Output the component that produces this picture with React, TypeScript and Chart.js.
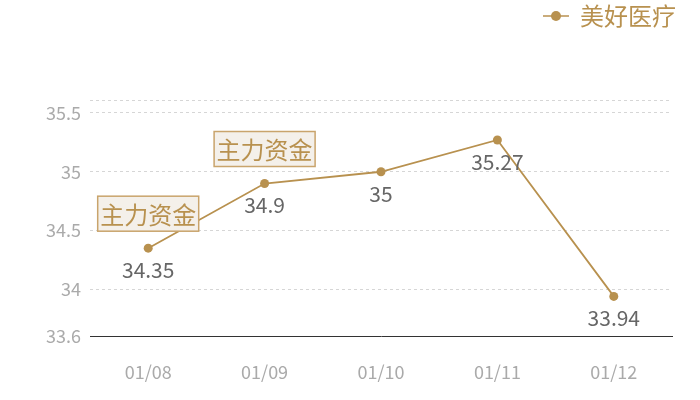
import React, { useEffect, useRef } from "react";
import { Chart, registerables } from "chart.js";

Chart.register(...registerables);

const categories = ["01/08", "01/09", "01/10", "01/11", "01/12"];
const prices = [34.35, 34.9, 35, 35.27, 33.94];
const yTicks = [33.6, 34, 34.5, 35, 35.5, 35.61];
const annotationIndexes = [0, 1];
const annotationText = "主力资金";
const seriesName = "美好医疗";

const GOLD = "#b8914f";
const FONT = "'Noto Sans CJK SC', 'Noto Sans', sans-serif";

function makeLegendIcon(): HTMLCanvasElement {
  const c = document.createElement("canvas");
  c.width = 26;
  c.height = 12;
  const ctx = c.getContext("2d")!;
  ctx.strokeStyle = GOLD;
  ctx.lineWidth = 1.5;
  ctx.beginPath();
  ctx.moveTo(0, 6);
  ctx.lineTo(26, 6);
  ctx.stroke();
  ctx.fillStyle = GOLD;
  ctx.beginPath();
  ctx.arc(13, 6, 5, 0, Math.PI * 2);
  ctx.fill();
  return c;
}

const overlayPlugin = {
  id: "overlay",
  beforeInit(chart: any) {
    const legend = chart.legend;
    if (legend) {
      const orig = legend.fit;
      legend.fit = function () {
        orig.call(legend);
        this.height += 62;
      };
    }
  },
  afterLayout(chart: any) {
    const lg = chart.legend;
    if (lg) {
      lg.left += 8;
      lg.right += 8;
    }
  },
  afterDatasetsDraw(chart: any) {
    const ctx = chart.ctx;
    const meta = chart.getDatasetMeta(0);
    ctx.save();
    // data labels
    ctx.font = `21px ${FONT}`;
    ctx.fillStyle = "#666666";
    ctx.textAlign = "center";
    ctx.textBaseline = "middle";
    meta.data.forEach((pt: any, i: number) => {
      ctx.fillText(String(prices[i]), pt.x, pt.y + 22);
    });
    // annotation boxes
    ctx.font = `24px ${FONT}`;
    annotationIndexes.forEach((i) => {
      const pt = meta.data[i];
      const w = 101;
      const h = 35;
      const left = pt.x - w / 2;
      const bottom = pt.y - 17;
      const top = bottom - h;
      ctx.fillStyle = "#f4f0ea";
      ctx.fillRect(left, top, w, h);
      ctx.strokeStyle = "#c9a46c";
      ctx.lineWidth = 1.5;
      ctx.strokeRect(left, top, w, h);
      ctx.fillStyle = "#b8914f";
      ctx.textAlign = "center";
      ctx.textBaseline = "middle";
      ctx.fillText(annotationText, pt.x, top + h / 2 + 1);
    });
    ctx.restore();
  },
};

export default function App() {
  const ref = useRef<HTMLCanvasElement>(null);
  useEffect(() => {
    if (!ref.current) return;
    const icon = makeLegendIcon();
    const chart = new Chart(ref.current, {
      type: "line",
      data: {
        labels: categories,
        datasets: [
          {
            label: seriesName,
            data: prices,
            borderColor: GOLD,
            backgroundColor: GOLD,
            borderWidth: 1.8,
            pointRadius: 4.5,
            pointBackgroundColor: GOLD,
            pointBorderWidth: 0,
            tension: 0,
            pointStyle: "circle",
          },
        ],
      },
      options: {
        animation: false,
        responsive: false,
        layout: { padding: { left: 0, right: 28, top: 0, bottom: -8 } },
        plugins: {
          tooltip: { enabled: false },
          legend: {
            position: "top",
            align: "end",
            labels: {
              usePointStyle: true,
              pointStyle: icon as any,
              color: GOLD,
              font: { size: 24, family: FONT },
              padding: 4,
              generateLabels: () => [
                {
                  text: seriesName,
                  fillStyle: GOLD,
                  strokeStyle: GOLD,
                  fontColor: GOLD,
                  pointStyle: icon,
                  hidden: false,
                  datasetIndex: 0,
                  lineWidth: 0,
                },
              ],
            },
          },
        },
        scales: {
          x: {
            offset: true,
            grid: { display: false, drawTicks: false },
            border: { display: true, color: "#333333", width: 1 },
            ticks: {
              color: "#aaaaaa",
              font: { size: 18, family: FONT },
              padding: 25,
            },
          },
          y: {
            min: 33.6,
            max: 35.61,
            afterBuildTicks: (axis: any) => {
              axis.ticks = yTicks.map((v) => ({ value: v }));
            },
            afterFit: (axis: any) => {
              axis.width = 90;
            },
            grid: {
              color: "#d6d6d6",
              drawTicks: false,
              lineWidth: 1,
            },
            border: { display: false, dash: [3, 3] },
            ticks: {
              color: "#aaaaaa",
              font: { size: 18, family: FONT },
              padding: 9,
              autoSkip: false,
              callback: (v: any) => (v === 35.61 ? "" : String(v)),
            },
          },
        },
      },
      plugins: [overlayPlugin],
    });
    return () => chart.destroy();
  }, []);
  return (
    <div style={{ position: "absolute", left: 0, top: 0, width: 700, height: 400 }}>
      <canvas ref={ref} width={700} height={400} style={{ width: 700, height: 400 }} />
    </div>
  );
}
